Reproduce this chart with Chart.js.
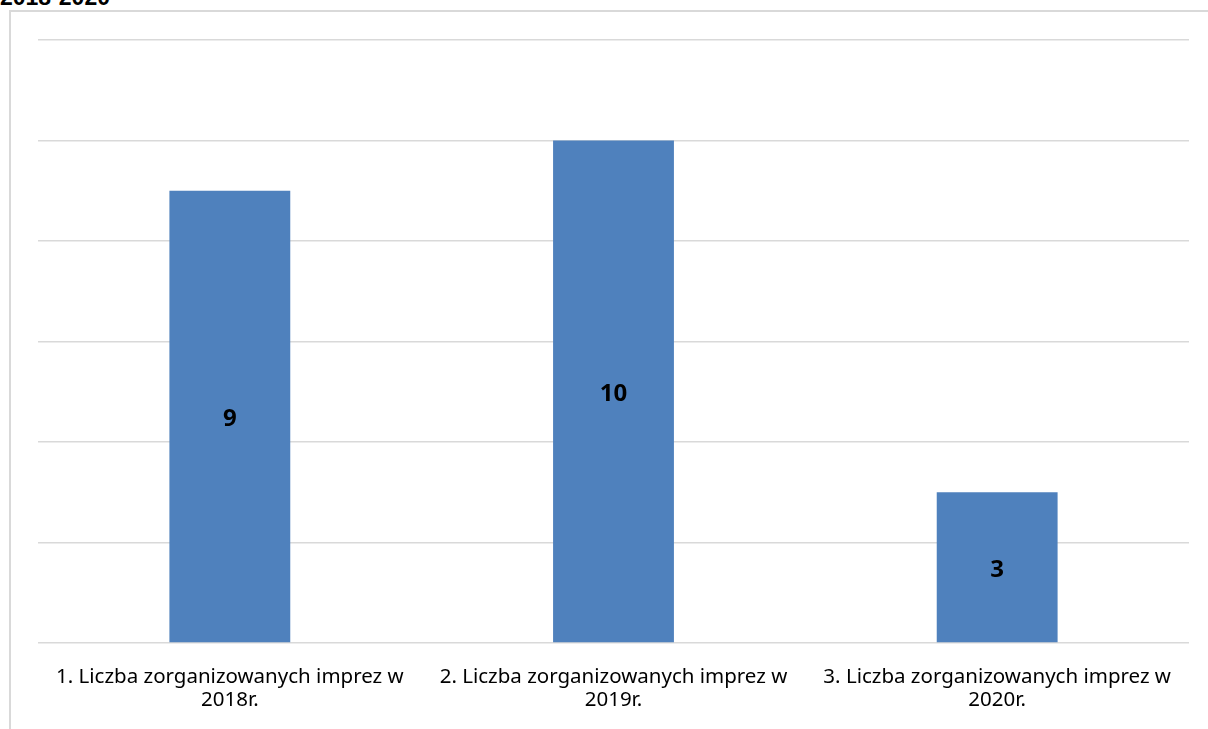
<!DOCTYPE html>
<html>
<head>
<meta charset="utf-8">
<script src="https://cdn.jsdelivr.net/npm/chart.js@4/dist/chart.umd.min.js"></script>
<style>
  html, body { margin: 0; padding: 0; background: #fff; overflow: hidden; }
  #title {
    position: absolute; left: 0; top: -16px;
    font: bold 23px "Liberation Sans", Arial, sans-serif; color: #000;
  }
  #frame {
    position: absolute; left: 9px; top: 10px; width: 1220px; height: 740px;
    border: 2px solid #d9d9d9; box-sizing: border-box;
  }
  #wrap { position: absolute; left: 0; top: 0; width: 1208px; height: 729px; }
</style>
</head>
<body>
<div id="title">2018-2020</div>
<div id="frame"></div>
<div id="wrap"><canvas id="myChart"></canvas></div>
<script>
"use strict";

// data
const categories = [
  ["1. Liczba zorganizowanych imprez w", "2018r."],
  ["2. Liczba zorganizowanych imprez w", "2019r."],
  ["3. Liczba zorganizowanych imprez w", "2020r."],
];
const eventCounts = [9, 10, 3];
const yTicks = [0, 2, 4, 6, 8, 10, 12];

// labels drawn in the middle of each bar
const barLabels = {
  id: "barLabels",
  afterDatasetsDraw(chart) {
    const ctx = chart.ctx;
    const meta = chart.getDatasetMeta(0);
    ctx.save();
    ctx.font = "bold 24px 'Open Sans', 'Noto Sans', sans-serif";
    ctx.fillStyle = "#000";
    ctx.textAlign = "center";
    ctx.textBaseline = "middle";
    meta.data.forEach((bar, i) => {
      const mid = (bar.y + bar.base) / 2 + 3;
      ctx.fillText(eventCounts[i], bar.x, mid);
    });
    ctx.restore();
  },
};

const ctx = document.getElementById("myChart").getContext("2d");
const myChart = new Chart(ctx, {
  type: "bar",
  data: {
    labels: categories,
    datasets: [{
      data: eventCounts,
      backgroundColor: "#4f81bd",
      barPercentage: 0.315,
      categoryPercentage: 1,
    }],
  },
  options: {
    responsive: true,
    maintainAspectRatio: false,
    animation: false,
    layout: { padding: { left: 38, right: 19, top: 40, bottom: 0 } },
    plugins: {
      legend: { display: false },
      tooltip: { enabled: false },
    },
    scales: {
      x: {
        afterFit: (axis) => { axis.height = 86; },
        grid: { display: false, drawTicks: false },
        border: { display: false },
        ticks: {
          color: "#000",
          font: { family: "'Noto Sans', sans-serif", size: 20.5, lineHeight: 1.12 },
          maxRotation: 0,
          autoSkip: false,
          padding: 23,
        },
      },
      y: {
        min: 0,
        max: 12,
        afterBuildTicks: (axis) => {
          axis.ticks = yTicks.map((v) => ({ value: v }));
        },
        afterFit: (axis) => { axis.width = 0; },
        ticks: { display: false },
        border: { display: false },
        grid: { color: "#d9d9d9", lineWidth: 1.5, drawTicks: false },
      },
    },
  },
  plugins: [barLabels],
});
</script>
</body>
</html>
